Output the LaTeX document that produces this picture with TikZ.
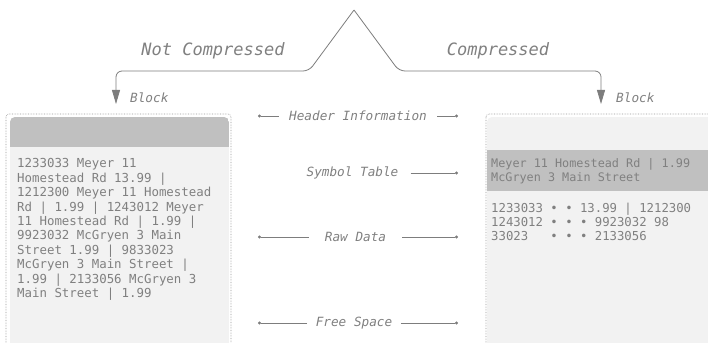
\documentclass[tikz,border=0pt]{standalone}
\usepackage{fontspec}
\setmonofont{DejaVu Sans Mono}
\usepackage{tikz}
\usetikzlibrary{positioning,arrows.meta}
\definecolor{inkgray}{RGB}{128,128,128}
\definecolor{linegray}{RGB}{125,125,125}
\definecolor{blockfill}{RGB}{242,242,242}
\definecolor{bandfill}{RGB}{192,192,192}
\definecolor{dotgray}{RGB}{150,150,150}

\begin{document}
\begin{tikzpicture}[
  x=1pt, y=-1pt,
  flow/.style={line width=0.8pt,color=linegray,rounded corners=6pt,
    -{Triangle[length=14pt,width=8pt]}},
  lead/.style={line width=0.6pt,color=linegray,-{Circle[length=3pt]}},
  title/.style={font=\ttfamily\itshape\fontsize{17}{20}\selectfont,
    text=inkgray,inner sep=0pt},
  tag/.style={font=\ttfamily\itshape\fontsize{12.7}{15}\selectfont,
    text=inkgray,inner ysep=0pt},
  data/.style={font=\ttfamily\fontsize{12.4}{14.4}\selectfont,
    text=inkgray,align=left,inner sep=0pt,anchor=north west},
  frame/.style={draw=dotgray,densely dotted,line width=0.6pt,rounded corners=3pt}
]
\clip (0,0) rectangle (708,342);

% the two blocks
\draw[frame] (6,114) rectangle (231,360);
\begin{scope}
  \clip[rounded corners=5pt] (10,117) rectangle (229,360);
  \fill[blockfill] (10,117) rectangle (229,360);
  \fill[bandfill] (10,117) rectangle (229,147);
\end{scope}
\draw[frame] (486,114) rectangle (720,360);
\begin{scope}
  \clip[rounded corners=5pt] (487,117) rectangle (720,360);
  \fill[blockfill] (487,117) rectangle (720,360);
  \fill[bandfill] (487,150) rectangle (720,191);
\end{scope}

\node[data] (raw) at (17,158.5)
  {1233033 Meyer 11\\
   Homestead Rd 13.99 |\\
   1212300 Meyer 11 Homestead\\
   Rd | 1.99 | 1243012 Meyer\\
   11 Homestead Rd | 1.99 |\\
   9923032 McGryen 3 Main\\
   Street 1.99 | 9833023\\
   McGryen 3 Main Street |\\
   1.99 | 2133056 McGryen 3\\
   Main Street | 1.99};

\node[data,font=\ttfamily\fontsize{11.8}{14}\selectfont] (symtab) at (491,158.7)
  {Meyer 11 Homestead Rd | 1.99\\
   McGryen 3 Main Street};
\node[data,font=\ttfamily\fontsize{12.3}{14}\selectfont] (packed) at (491,202.5)
  {1233033 • • 13.99 | 1212300\\
   1243012 • • • 9923032 98\\
   33023~~~• • • 2133056};

% split at the top
\coordinate (apex) at (354,10);
\coordinate (lc) at (309,71);
\coordinate (lt) at (116,71);
\coordinate (lend) at (116,104);
\coordinate (rc) at (399,71);
\coordinate (rt) at (601,71);
\coordinate (rend) at (601,104);
\draw[flow] (apex) -- (lc) -- (lt) -- (lend);
\draw[flow] (apex) -- (rc) -- (rt) -- (rend);

\node[title] (nc) at (213,51) {Not Compressed};
\node[title] (cp) at (498,51) {Compressed};
\node[tag,inner sep=0pt,anchor=west] (lblock) at (130,98) {Block};
\node[tag,inner sep=0pt,anchor=west] (rblock) at (616,98) {Block};

% legend in the middle
\coordinate (hl) at (258,116);
\coordinate (hr) at (458,116);
\coordinate (sr) at (458,173);
\coordinate (dl) at (258,237);
\coordinate (dr) at (458,237);
\coordinate (fl) at (258,323);
\coordinate (fr) at (458,323);
\node[tag,inner xsep=10pt] (hdr) at (358,116) {Header Information};
\node[tag,inner xsep=12pt] (sym) at (352.5,173) {Symbol Table};
\node[tag,inner xsep=16pt] (dat) at (355.5,237) {Raw Data};
\node[tag,inner xsep=8.5pt] (free) at (354,323) {Free Space};
\draw[lead] (hdr) -- (hl);
\draw[lead] (hdr) -- (hr);
\draw[lead] (sym) -- (sr);
\draw[lead] (dat) -- (dl);
\draw[lead] (dat) -- (dr);
\draw[lead] (free) -- (fl);
\draw[lead] (free) -- (fr);
\end{tikzpicture}
\end{document}
